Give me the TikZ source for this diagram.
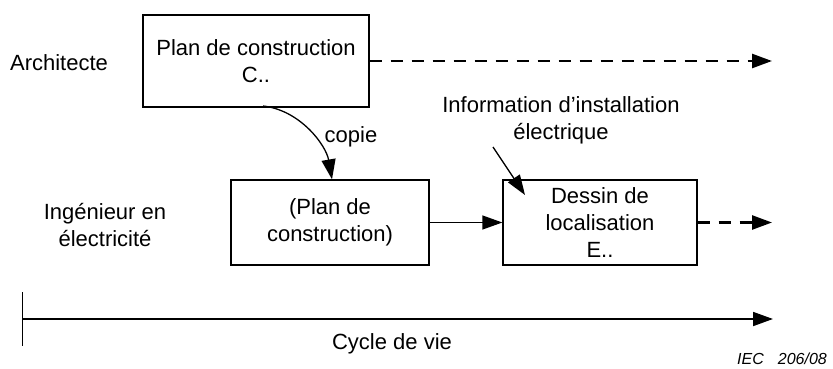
\documentclass[tikz,border=0pt]{standalone}
\usepackage{fontspec}
\setmainfont{Liberation Sans}
\usetikzlibrary{arrows.meta}
\begin{document}
\begin{tikzpicture}[x=1pt,y=-1pt,
  every node/.style={font=\fontsize{22}{27}\selectfont, inner sep=0pt},
  stagebox/.style={draw, line width=1.3pt, align=center},
  tip/.style={-{Triangle[length=20pt,width=14pt]}},
  flow/.style={tip, line width=1.3pt},
  later/.style={tip, line width=2.6pt, dash pattern=on 12pt off 9pt},
  lbl/.style={align=center}]
\useasboundingbox (0,0) rectangle (833,369);

% stage boxes
\node[stagebox, minimum width=226pt, minimum height=92pt] (plan) at (256,61)
  {Plan de construction\\C..};
\node[stagebox, minimum width=198pt, minimum height=85pt] (copy) at (330,222.5)
  {(Plan de\\construction)};
\node[stagebox, minimum width=194pt, minimum height=85pt] (loc) at (600,222.5)
  {Dessin de\\localisation\\E..};

% role labels
\node[lbl] (arch) at (59,63) {Architecte};
\node[lbl] (eng) at (105,225) {Ingénieur en\\électricité};

% annotations
\node[lbl] (copie) at (351,137) {copie};
\node[lbl] (info) at (561,120) {Information d’installation\\électrique};

% continuation ends
\coordinate (planEnd) at (772,61);
\coordinate (locEnd) at (772,222.5);
\coordinate (infoFrom) at (493,147);
\coordinate (infoTo) at (525,195);
\coordinate (curveFrom) at (263,106);

% connectors
\draw[later] (plan.east) -- (planEnd);
\draw[later] (loc.east) -- (locEnd);
\draw[flow] (copy.east) -- (loc.west);
\draw[flow] (curveFrom) .. controls (300,110) and (326,145) .. (copy.north -| 332,0);
\draw[flow] (infoFrom) -- (infoTo);

% life-cycle axis
\coordinate (tickTop) at (22,292);
\coordinate (tickBot) at (22,346);
\coordinate (axisStart) at (22,319);
\coordinate (axisEnd) at (773,319);
\draw[line width=1pt] (tickTop) -- (tickBot);
\draw[tip, line width=1.8pt] (axisStart) -- (axisEnd);
\node[lbl] (cycle) at (392,344) {Cycle de vie};

\node[anchor=east, font=\fontsize{16}{19}\selectfont\itshape] (ref) at (827,359)
  {IEC\hspace{14pt}206/08};
\end{tikzpicture}
\end{document}
